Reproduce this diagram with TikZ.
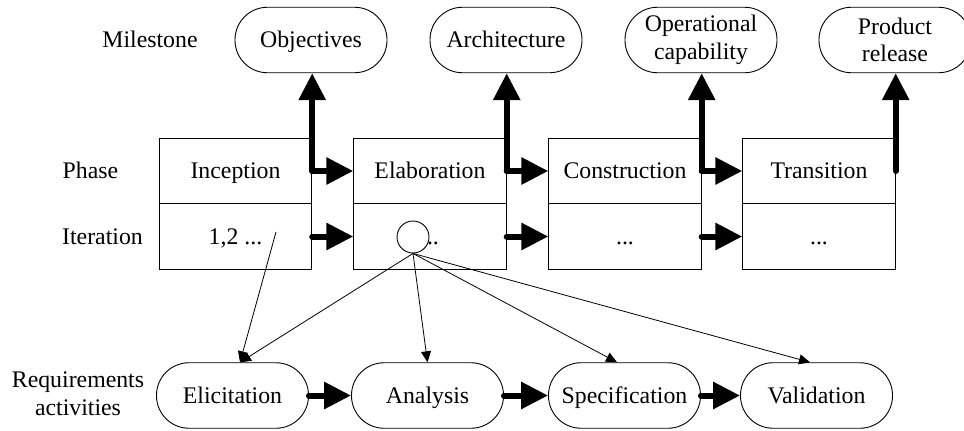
\documentclass[tikz,border=0pt]{standalone}
\usepackage{fontspec}
\setmainfont{Liberation Serif}
\usetikzlibrary{arrows.meta}
\begin{document}
\begin{tikzpicture}[x=1pt,y=-1pt,
  every node/.style={font=\fontsize{23.8}{27.6}\selectfont, inner sep=0pt, text height=18pt, text depth=3pt},
  twoline/.style={text height=, text depth=},
  lbl/.style={align=center},
  pill/.style={draw, line width=0.9pt, rounded corners=32.5pt, minimum width=152pt, minimum height=65.5pt, align=center, fill=white},
  cell/.style={draw, line width=0.9pt, minimum width=152.5pt, minimum height=65.5pt},
  flow/.style={line width=6pt, line cap=round, -{Triangle[length=27pt,width=26pt]}},
  link/.style={line width=0.8pt, -{Triangle[length=11pt,width=10pt]}}]
\useasboundingbox (0,0) rectangle (964,431);

% row labels
\node[lbl] (lmile) at (150,40) {Milestone};
\node[lbl] (lphase) at (90.5,171) {Phase};
\node[lbl] (liter) at (102.5,236.5) {Iteration};
\node[lbl, twoline] (lreq) at (78,394) {Requirements\\activities};

% milestones
\node[pill] (obj) at (311,40) {Objectives};
\node[pill] (arch) at (506,40) {Architecture};
\node[pill, twoline] (oper) at (701,40) {Operational\\capability};
\node[pill, twoline] (prod) at (895,40) {Product\\release};

% phases
\node[cell] (inc) at (235.5,171) {Inception};
\node[cell] (ela) at (430,171) {Elaboration};
\node[cell] (con) at (625,171) {Construction};
\node[cell] (tra) at (819,171) {Transition};

% iterations
\node[cell] (incit) at (235.5,236.5) {1,2 ...};
\node[cell] (elait) at (430,236.5) {...};
\node[cell] (conit) at (625,236.5) {...};
\node[cell] (trait) at (819,236.5) {...};
\node[draw, circle, line width=0.9pt, fill=white, minimum size=32pt, text height=0pt, text depth=0pt] (cur) at (413,237) {};
\coordinate (itstart) at (276,232);

% requirements activities
\node[pill] (eli) at (232.5,395.5) {Elicitation};
\node[pill] (ana) at (427.5,395.5) {Analysis};
\node[pill] (spe) at (624.5,395.5) {Specification};
\node[pill] (val) at (816.5,395.5) {Validation};

% phase flow and milestones
\draw[flow] (inc.east) -- (ela.west);
\draw[flow] (inc.east) -- (inc.east |- obj.south);
\draw[flow] (ela.east) -- (con.west);
\draw[flow] (ela.east) -- (ela.east |- arch.south);
\draw[flow] (con.east) -- (tra.west);
\draw[flow] (con.east) -- (con.east |- oper.south);
\draw[flow] (tra.east) -- (tra.east |- prod.south);

% iteration flow
\draw[flow] (incit.east) -- (elait.west);
\draw[flow] (elait.east) -- (conit.west);
\draw[flow] (conit.east) -- (trait.west);

% activity flow
\draw[flow] (eli.east) -- (ana.west);
\draw[flow] (ana.east) -- (spe.west);
\draw[flow] (spe.east) -- (val.west);

% iteration to activities
\draw[link] (itstart) -- ([xshift=7.5pt]eli.north);
\draw[link] (cur.south) -- ([xshift=7.5pt]eli.north);
\draw[link] (cur.south) -- (ana.north);
\draw[link] (cur.south) -- ([xshift=-7.5pt]spe.north);
\draw[link] (cur.south) -- ([xshift=-6.5pt]val.north);
\end{tikzpicture}
\end{document}
